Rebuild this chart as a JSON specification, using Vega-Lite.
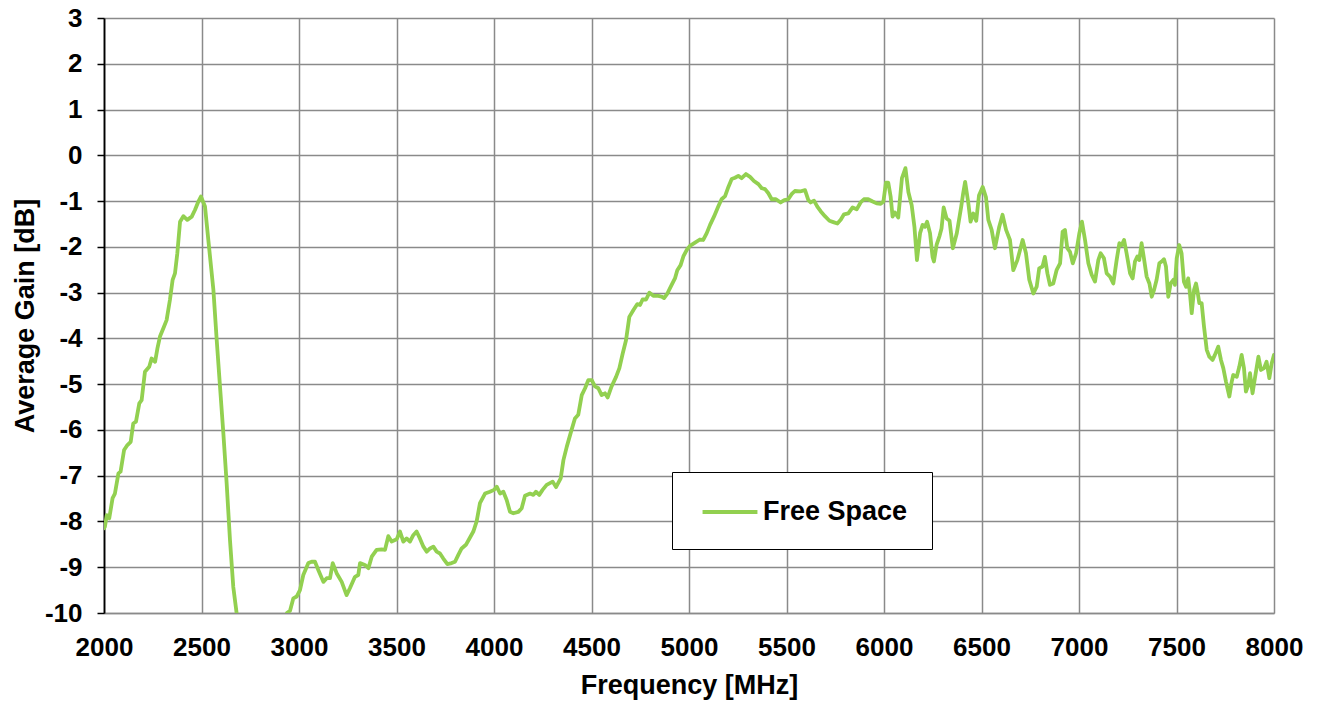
{
  "$schema": "https://vega.github.io/schema/vega-lite/v6.json",
  "width": 1170,
  "height": 595,
  "autosize": {"type": "none"},
  "padding": {"left": 104, "top": 18, "right": 44, "bottom": 89},
  "background": "white",
  "config": {
    "view": {"stroke": null},
    "font": "Liberation Sans",
    "axis": {
      "labelFont": "Liberation Sans",
      "labelFontWeight": "bold",
      "labelFontSize": 26,
      "labelColor": "black",
      "titleFont": "Liberation Sans",
      "titleFontWeight": "bold",
      "titleFontSize": 27,
      "titleColor": "black",
      "gridColor": "#8a8a8a",
      "gridWidth": 1.5,
      "gridOpacity": 1
    }
  },
  "data": {
    "values": [
      {"f": 2000, "g": -8.15, "s": "Free Space"},
      {"f": 2005, "g": -8.11, "s": "Free Space"},
      {"f": 2014, "g": -7.86, "s": "Free Space"},
      {"f": 2027, "g": -7.93, "s": "Free Space"},
      {"f": 2044, "g": -7.49, "s": "Free Space"},
      {"f": 2056, "g": -7.39, "s": "Free Space"},
      {"f": 2074, "g": -6.95, "s": "Free Space"},
      {"f": 2085, "g": -6.91, "s": "Free Space"},
      {"f": 2103, "g": -6.44, "s": "Free Space"},
      {"f": 2120, "g": -6.33, "s": "Free Space"},
      {"f": 2137, "g": -6.26, "s": "Free Space"},
      {"f": 2150, "g": -5.86, "s": "Free Space"},
      {"f": 2164, "g": -5.82, "s": "Free Space"},
      {"f": 2181, "g": -5.42, "s": "Free Space"},
      {"f": 2193, "g": -5.35, "s": "Free Space"},
      {"f": 2210, "g": -4.73, "s": "Free Space"},
      {"f": 2232, "g": -4.62, "s": "Free Space"},
      {"f": 2244, "g": -4.44, "s": "Free Space"},
      {"f": 2262, "g": -4.51, "s": "Free Space"},
      {"f": 2274, "g": -4.22, "s": "Free Space"},
      {"f": 2287, "g": -3.96, "s": "Free Space"},
      {"f": 2308, "g": -3.74, "s": "Free Space"},
      {"f": 2321, "g": -3.6, "s": "Free Space"},
      {"f": 2338, "g": -3.16, "s": "Free Space"},
      {"f": 2352, "g": -2.72, "s": "Free Space"},
      {"f": 2364, "g": -2.58, "s": "Free Space"},
      {"f": 2376, "g": -2.14, "s": "Free Space"},
      {"f": 2390, "g": -1.45, "s": "Free Space"},
      {"f": 2407, "g": -1.33, "s": "Free Space"},
      {"f": 2427, "g": -1.41, "s": "Free Space"},
      {"f": 2450, "g": -1.34, "s": "Free Space"},
      {"f": 2467, "g": -1.19, "s": "Free Space"},
      {"f": 2484, "g": -1.01, "s": "Free Space"},
      {"f": 2497, "g": -0.9, "s": "Free Space"},
      {"f": 2518, "g": -1.12, "s": "Free Space"},
      {"f": 2535, "g": -1.85, "s": "Free Space"},
      {"f": 2561, "g": -2.94, "s": "Free Space"},
      {"f": 2578, "g": -4.04, "s": "Free Space"},
      {"f": 2595, "g": -5.06, "s": "Free Space"},
      {"f": 2612, "g": -6.07, "s": "Free Space"},
      {"f": 2629, "g": -7.17, "s": "Free Space"},
      {"f": 2646, "g": -8.4, "s": "Free Space"},
      {"f": 2663, "g": -9.43, "s": "Free Space"},
      {"f": 2680, "g": -10.0, "s": "Free Space"},
      {"f": 2700, "g": -10.6, "s": "Free Space"},
      {"f": 2750, "g": -11.8, "s": "Free Space"},
      {"f": 2800, "g": -12.3, "s": "Free Space"},
      {"f": 2850, "g": -12.0, "s": "Free Space"},
      {"f": 2900, "g": -11.0, "s": "Free Space"},
      {"f": 2938, "g": -10.0, "s": "Free Space"},
      {"f": 2954, "g": -9.95, "s": "Free Space"},
      {"f": 2971, "g": -9.68, "s": "Free Space"},
      {"f": 2988, "g": -9.64, "s": "Free Space"},
      {"f": 3005, "g": -9.5, "s": "Free Space"},
      {"f": 3022, "g": -9.17, "s": "Free Space"},
      {"f": 3048, "g": -8.91, "s": "Free Space"},
      {"f": 3065, "g": -8.88, "s": "Free Space"},
      {"f": 3082, "g": -8.88, "s": "Free Space"},
      {"f": 3099, "g": -9.06, "s": "Free Space"},
      {"f": 3125, "g": -9.32, "s": "Free Space"},
      {"f": 3142, "g": -9.24, "s": "Free Space"},
      {"f": 3159, "g": -9.24, "s": "Free Space"},
      {"f": 3173, "g": -8.91, "s": "Free Space"},
      {"f": 3193, "g": -9.13, "s": "Free Space"},
      {"f": 3219, "g": -9.32, "s": "Free Space"},
      {"f": 3244, "g": -9.61, "s": "Free Space"},
      {"f": 3261, "g": -9.46, "s": "Free Space"},
      {"f": 3287, "g": -9.21, "s": "Free Space"},
      {"f": 3304, "g": -9.17, "s": "Free Space"},
      {"f": 3313, "g": -8.91, "s": "Free Space"},
      {"f": 3338, "g": -8.95, "s": "Free Space"},
      {"f": 3356, "g": -9.02, "s": "Free Space"},
      {"f": 3373, "g": -8.77, "s": "Free Space"},
      {"f": 3398, "g": -8.62, "s": "Free Space"},
      {"f": 3424, "g": -8.61, "s": "Free Space"},
      {"f": 3441, "g": -8.62, "s": "Free Space"},
      {"f": 3458, "g": -8.32, "s": "Free Space"},
      {"f": 3475, "g": -8.44, "s": "Free Space"},
      {"f": 3501, "g": -8.39, "s": "Free Space"},
      {"f": 3518, "g": -8.22, "s": "Free Space"},
      {"f": 3535, "g": -8.44, "s": "Free Space"},
      {"f": 3552, "g": -8.37, "s": "Free Space"},
      {"f": 3569, "g": -8.44, "s": "Free Space"},
      {"f": 3586, "g": -8.3, "s": "Free Space"},
      {"f": 3603, "g": -8.22, "s": "Free Space"},
      {"f": 3620, "g": -8.37, "s": "Free Space"},
      {"f": 3638, "g": -8.55, "s": "Free Space"},
      {"f": 3655, "g": -8.66, "s": "Free Space"},
      {"f": 3672, "g": -8.59, "s": "Free Space"},
      {"f": 3689, "g": -8.55, "s": "Free Space"},
      {"f": 3706, "g": -8.66, "s": "Free Space"},
      {"f": 3723, "g": -8.7, "s": "Free Space"},
      {"f": 3740, "g": -8.81, "s": "Free Space"},
      {"f": 3761, "g": -8.93, "s": "Free Space"},
      {"f": 3783, "g": -8.91, "s": "Free Space"},
      {"f": 3800, "g": -8.88, "s": "Free Space"},
      {"f": 3817, "g": -8.73, "s": "Free Space"},
      {"f": 3834, "g": -8.59, "s": "Free Space"},
      {"f": 3856, "g": -8.51, "s": "Free Space"},
      {"f": 3877, "g": -8.35, "s": "Free Space"},
      {"f": 3894, "g": -8.22, "s": "Free Space"},
      {"f": 3911, "g": -8.0, "s": "Free Space"},
      {"f": 3928, "g": -7.6, "s": "Free Space"},
      {"f": 3954, "g": -7.39, "s": "Free Space"},
      {"f": 3979, "g": -7.35, "s": "Free Space"},
      {"f": 4000, "g": -7.31, "s": "Free Space"},
      {"f": 4014, "g": -7.24, "s": "Free Space"},
      {"f": 4031, "g": -7.39, "s": "Free Space"},
      {"f": 4048, "g": -7.35, "s": "Free Space"},
      {"f": 4065, "g": -7.53, "s": "Free Space"},
      {"f": 4082, "g": -7.79, "s": "Free Space"},
      {"f": 4099, "g": -7.82, "s": "Free Space"},
      {"f": 4125, "g": -7.79, "s": "Free Space"},
      {"f": 4142, "g": -7.71, "s": "Free Space"},
      {"f": 4159, "g": -7.44, "s": "Free Space"},
      {"f": 4185, "g": -7.39, "s": "Free Space"},
      {"f": 4202, "g": -7.42, "s": "Free Space"},
      {"f": 4215, "g": -7.35, "s": "Free Space"},
      {"f": 4232, "g": -7.42, "s": "Free Space"},
      {"f": 4249, "g": -7.31, "s": "Free Space"},
      {"f": 4270, "g": -7.2, "s": "Free Space"},
      {"f": 4301, "g": -7.13, "s": "Free Space"},
      {"f": 4318, "g": -7.25, "s": "Free Space"},
      {"f": 4342, "g": -7.06, "s": "Free Space"},
      {"f": 4356, "g": -6.66, "s": "Free Space"},
      {"f": 4373, "g": -6.37, "s": "Free Space"},
      {"f": 4393, "g": -6.07, "s": "Free Space"},
      {"f": 4415, "g": -5.75, "s": "Free Space"},
      {"f": 4432, "g": -5.67, "s": "Free Space"},
      {"f": 4450, "g": -5.24, "s": "Free Space"},
      {"f": 4467, "g": -5.09, "s": "Free Space"},
      {"f": 4484, "g": -4.91, "s": "Free Space"},
      {"f": 4501, "g": -4.91, "s": "Free Space"},
      {"f": 4518, "g": -5.05, "s": "Free Space"},
      {"f": 4535, "g": -5.09, "s": "Free Space"},
      {"f": 4552, "g": -5.24, "s": "Free Space"},
      {"f": 4569, "g": -5.2, "s": "Free Space"},
      {"f": 4583, "g": -5.29, "s": "Free Space"},
      {"f": 4603, "g": -5.05, "s": "Free Space"},
      {"f": 4626, "g": -4.84, "s": "Free Space"},
      {"f": 4643, "g": -4.65, "s": "Free Space"},
      {"f": 4660, "g": -4.33, "s": "Free Space"},
      {"f": 4677, "g": -4.04, "s": "Free Space"},
      {"f": 4694, "g": -3.53, "s": "Free Space"},
      {"f": 4715, "g": -3.38, "s": "Free Space"},
      {"f": 4735, "g": -3.25, "s": "Free Space"},
      {"f": 4749, "g": -3.27, "s": "Free Space"},
      {"f": 4762, "g": -3.15, "s": "Free Space"},
      {"f": 4780, "g": -3.15, "s": "Free Space"},
      {"f": 4797, "g": -3.0, "s": "Free Space"},
      {"f": 4817, "g": -3.07, "s": "Free Space"},
      {"f": 4843, "g": -3.07, "s": "Free Space"},
      {"f": 4860, "g": -3.09, "s": "Free Space"},
      {"f": 4872, "g": -3.12, "s": "Free Space"},
      {"f": 4889, "g": -3.02, "s": "Free Space"},
      {"f": 4911, "g": -2.83, "s": "Free Space"},
      {"f": 4928, "g": -2.69, "s": "Free Space"},
      {"f": 4940, "g": -2.51, "s": "Free Space"},
      {"f": 4957, "g": -2.4, "s": "Free Space"},
      {"f": 4971, "g": -2.21, "s": "Free Space"},
      {"f": 4988, "g": -2.07, "s": "Free Space"},
      {"f": 5005, "g": -1.98, "s": "Free Space"},
      {"f": 5031, "g": -1.91, "s": "Free Space"},
      {"f": 5056, "g": -1.84, "s": "Free Space"},
      {"f": 5073, "g": -1.85, "s": "Free Space"},
      {"f": 5091, "g": -1.7, "s": "Free Space"},
      {"f": 5108, "g": -1.52, "s": "Free Space"},
      {"f": 5128, "g": -1.34, "s": "Free Space"},
      {"f": 5150, "g": -1.12, "s": "Free Space"},
      {"f": 5167, "g": -0.96, "s": "Free Space"},
      {"f": 5185, "g": -0.89, "s": "Free Space"},
      {"f": 5202, "g": -0.69, "s": "Free Space"},
      {"f": 5219, "g": -0.52, "s": "Free Space"},
      {"f": 5236, "g": -0.49, "s": "Free Space"},
      {"f": 5253, "g": -0.45, "s": "Free Space"},
      {"f": 5270, "g": -0.5, "s": "Free Space"},
      {"f": 5292, "g": -0.41, "s": "Free Space"},
      {"f": 5313, "g": -0.47, "s": "Free Space"},
      {"f": 5333, "g": -0.56, "s": "Free Space"},
      {"f": 5356, "g": -0.63, "s": "Free Space"},
      {"f": 5373, "g": -0.72, "s": "Free Space"},
      {"f": 5390, "g": -0.74, "s": "Free Space"},
      {"f": 5407, "g": -0.83, "s": "Free Space"},
      {"f": 5424, "g": -0.96, "s": "Free Space"},
      {"f": 5446, "g": -0.96, "s": "Free Space"},
      {"f": 5470, "g": -1.03, "s": "Free Space"},
      {"f": 5489, "g": -0.98, "s": "Free Space"},
      {"f": 5509, "g": -0.96, "s": "Free Space"},
      {"f": 5526, "g": -0.85, "s": "Free Space"},
      {"f": 5543, "g": -0.78, "s": "Free Space"},
      {"f": 5569, "g": -0.79, "s": "Free Space"},
      {"f": 5595, "g": -0.76, "s": "Free Space"},
      {"f": 5612, "g": -0.98, "s": "Free Space"},
      {"f": 5624, "g": -1.03, "s": "Free Space"},
      {"f": 5641, "g": -0.99, "s": "Free Space"},
      {"f": 5658, "g": -1.12, "s": "Free Space"},
      {"f": 5675, "g": -1.22, "s": "Free Space"},
      {"f": 5697, "g": -1.33, "s": "Free Space"},
      {"f": 5720, "g": -1.43, "s": "Free Space"},
      {"f": 5740, "g": -1.46, "s": "Free Space"},
      {"f": 5761, "g": -1.49, "s": "Free Space"},
      {"f": 5778, "g": -1.41, "s": "Free Space"},
      {"f": 5795, "g": -1.29, "s": "Free Space"},
      {"f": 5817, "g": -1.27, "s": "Free Space"},
      {"f": 5839, "g": -1.14, "s": "Free Space"},
      {"f": 5860, "g": -1.18, "s": "Free Space"},
      {"f": 5880, "g": -1.03, "s": "Free Space"},
      {"f": 5897, "g": -0.96, "s": "Free Space"},
      {"f": 5919, "g": -0.96, "s": "Free Space"},
      {"f": 5942, "g": -1.01, "s": "Free Space"},
      {"f": 5962, "g": -1.05, "s": "Free Space"},
      {"f": 5983, "g": -1.06, "s": "Free Space"},
      {"f": 5997, "g": -1.01, "s": "Free Space"},
      {"f": 6010, "g": -0.6, "s": "Free Space"},
      {"f": 6022, "g": -0.6, "s": "Free Space"},
      {"f": 6034, "g": -0.9, "s": "Free Space"},
      {"f": 6044, "g": -1.34, "s": "Free Space"},
      {"f": 6056, "g": -1.25, "s": "Free Space"},
      {"f": 6073, "g": -1.36, "s": "Free Space"},
      {"f": 6092, "g": -0.5, "s": "Free Space"},
      {"f": 6110, "g": -0.28, "s": "Free Space"},
      {"f": 6125, "g": -0.8, "s": "Free Space"},
      {"f": 6142, "g": -1.09, "s": "Free Space"},
      {"f": 6156, "g": -1.56, "s": "Free Space"},
      {"f": 6169, "g": -2.29, "s": "Free Space"},
      {"f": 6185, "g": -1.7, "s": "Free Space"},
      {"f": 6198, "g": -1.52, "s": "Free Space"},
      {"f": 6210, "g": -1.56, "s": "Free Space"},
      {"f": 6221, "g": -1.45, "s": "Free Space"},
      {"f": 6236, "g": -1.7, "s": "Free Space"},
      {"f": 6249, "g": -2.22, "s": "Free Space"},
      {"f": 6256, "g": -2.32, "s": "Free Space"},
      {"f": 6270, "g": -1.95, "s": "Free Space"},
      {"f": 6285, "g": -1.76, "s": "Free Space"},
      {"f": 6295, "g": -1.6, "s": "Free Space"},
      {"f": 6306, "g": -1.14, "s": "Free Space"},
      {"f": 6321, "g": -1.38, "s": "Free Space"},
      {"f": 6336, "g": -1.43, "s": "Free Space"},
      {"f": 6353, "g": -2.03, "s": "Free Space"},
      {"f": 6373, "g": -1.71, "s": "Free Space"},
      {"f": 6396, "g": -1.12, "s": "Free Space"},
      {"f": 6406, "g": -0.83, "s": "Free Space"},
      {"f": 6416, "g": -0.58, "s": "Free Space"},
      {"f": 6432, "g": -1.03, "s": "Free Space"},
      {"f": 6444, "g": -1.45, "s": "Free Space"},
      {"f": 6458, "g": -1.27, "s": "Free Space"},
      {"f": 6473, "g": -1.43, "s": "Free Space"},
      {"f": 6487, "g": -0.88, "s": "Free Space"},
      {"f": 6506, "g": -0.69, "s": "Free Space"},
      {"f": 6523, "g": -0.92, "s": "Free Space"},
      {"f": 6535, "g": -1.41, "s": "Free Space"},
      {"f": 6552, "g": -1.63, "s": "Free Space"},
      {"f": 6569, "g": -2.03, "s": "Free Space"},
      {"f": 6591, "g": -1.56, "s": "Free Space"},
      {"f": 6608, "g": -1.3, "s": "Free Space"},
      {"f": 6626, "g": -1.63, "s": "Free Space"},
      {"f": 6646, "g": -1.85, "s": "Free Space"},
      {"f": 6663, "g": -2.51, "s": "Free Space"},
      {"f": 6684, "g": -2.29, "s": "Free Space"},
      {"f": 6711, "g": -1.85, "s": "Free Space"},
      {"f": 6728, "g": -2.14, "s": "Free Space"},
      {"f": 6745, "g": -2.72, "s": "Free Space"},
      {"f": 6766, "g": -3.02, "s": "Free Space"},
      {"f": 6783, "g": -2.87, "s": "Free Space"},
      {"f": 6796, "g": -2.47, "s": "Free Space"},
      {"f": 6813, "g": -2.43, "s": "Free Space"},
      {"f": 6825, "g": -2.22, "s": "Free Space"},
      {"f": 6838, "g": -2.58, "s": "Free Space"},
      {"f": 6851, "g": -2.83, "s": "Free Space"},
      {"f": 6868, "g": -2.8, "s": "Free Space"},
      {"f": 6885, "g": -2.51, "s": "Free Space"},
      {"f": 6903, "g": -2.36, "s": "Free Space"},
      {"f": 6916, "g": -1.67, "s": "Free Space"},
      {"f": 6928, "g": -1.63, "s": "Free Space"},
      {"f": 6940, "g": -2.03, "s": "Free Space"},
      {"f": 6954, "g": -2.11, "s": "Free Space"},
      {"f": 6968, "g": -2.36, "s": "Free Space"},
      {"f": 6985, "g": -2.14, "s": "Free Space"},
      {"f": 7002, "g": -1.7, "s": "Free Space"},
      {"f": 7015, "g": -1.45, "s": "Free Space"},
      {"f": 7031, "g": -1.85, "s": "Free Space"},
      {"f": 7048, "g": -2.36, "s": "Free Space"},
      {"f": 7065, "g": -2.61, "s": "Free Space"},
      {"f": 7082, "g": -2.76, "s": "Free Space"},
      {"f": 7099, "g": -2.29, "s": "Free Space"},
      {"f": 7111, "g": -2.14, "s": "Free Space"},
      {"f": 7128, "g": -2.25, "s": "Free Space"},
      {"f": 7142, "g": -2.58, "s": "Free Space"},
      {"f": 7159, "g": -2.65, "s": "Free Space"},
      {"f": 7176, "g": -2.8, "s": "Free Space"},
      {"f": 7193, "g": -2.29, "s": "Free Space"},
      {"f": 7207, "g": -1.92, "s": "Free Space"},
      {"f": 7219, "g": -1.96, "s": "Free Space"},
      {"f": 7231, "g": -1.85, "s": "Free Space"},
      {"f": 7244, "g": -2.14, "s": "Free Space"},
      {"f": 7262, "g": -2.58, "s": "Free Space"},
      {"f": 7275, "g": -2.69, "s": "Free Space"},
      {"f": 7287, "g": -2.32, "s": "Free Space"},
      {"f": 7299, "g": -2.21, "s": "Free Space"},
      {"f": 7309, "g": -2.29, "s": "Free Space"},
      {"f": 7321, "g": -1.92, "s": "Free Space"},
      {"f": 7333, "g": -2.25, "s": "Free Space"},
      {"f": 7347, "g": -2.65, "s": "Free Space"},
      {"f": 7361, "g": -2.8, "s": "Free Space"},
      {"f": 7373, "g": -3.09, "s": "Free Space"},
      {"f": 7385, "g": -2.94, "s": "Free Space"},
      {"f": 7398, "g": -2.72, "s": "Free Space"},
      {"f": 7412, "g": -2.36, "s": "Free Space"},
      {"f": 7424, "g": -2.32, "s": "Free Space"},
      {"f": 7436, "g": -2.27, "s": "Free Space"},
      {"f": 7446, "g": -2.43, "s": "Free Space"},
      {"f": 7458, "g": -3.09, "s": "Free Space"},
      {"f": 7470, "g": -2.8, "s": "Free Space"},
      {"f": 7484, "g": -2.72, "s": "Free Space"},
      {"f": 7492, "g": -2.83, "s": "Free Space"},
      {"f": 7501, "g": -2.25, "s": "Free Space"},
      {"f": 7514, "g": -1.96, "s": "Free Space"},
      {"f": 7526, "g": -2.14, "s": "Free Space"},
      {"f": 7538, "g": -2.76, "s": "Free Space"},
      {"f": 7549, "g": -2.87, "s": "Free Space"},
      {"f": 7560, "g": -2.69, "s": "Free Space"},
      {"f": 7569, "g": -3.02, "s": "Free Space"},
      {"f": 7578, "g": -3.45, "s": "Free Space"},
      {"f": 7590, "g": -2.94, "s": "Free Space"},
      {"f": 7600, "g": -2.8, "s": "Free Space"},
      {"f": 7608, "g": -2.98, "s": "Free Space"},
      {"f": 7617, "g": -3.23, "s": "Free Space"},
      {"f": 7629, "g": -3.23, "s": "Free Space"},
      {"f": 7641, "g": -3.74, "s": "Free Space"},
      {"f": 7655, "g": -4.25, "s": "Free Space"},
      {"f": 7668, "g": -4.4, "s": "Free Space"},
      {"f": 7685, "g": -4.47, "s": "Free Space"},
      {"f": 7697, "g": -4.36, "s": "Free Space"},
      {"f": 7714, "g": -4.18, "s": "Free Space"},
      {"f": 7728, "g": -4.47, "s": "Free Space"},
      {"f": 7740, "g": -4.65, "s": "Free Space"},
      {"f": 7754, "g": -4.95, "s": "Free Space"},
      {"f": 7771, "g": -5.27, "s": "Free Space"},
      {"f": 7783, "g": -4.95, "s": "Free Space"},
      {"f": 7791, "g": -4.8, "s": "Free Space"},
      {"f": 7809, "g": -4.84, "s": "Free Space"},
      {"f": 7822, "g": -4.62, "s": "Free Space"},
      {"f": 7834, "g": -4.36, "s": "Free Space"},
      {"f": 7846, "g": -4.65, "s": "Free Space"},
      {"f": 7856, "g": -5.16, "s": "Free Space"},
      {"f": 7868, "g": -5.02, "s": "Free Space"},
      {"f": 7877, "g": -4.76, "s": "Free Space"},
      {"f": 7890, "g": -5.2, "s": "Free Space"},
      {"f": 7902, "g": -4.87, "s": "Free Space"},
      {"f": 7920, "g": -4.4, "s": "Free Space"},
      {"f": 7933, "g": -4.69, "s": "Free Space"},
      {"f": 7949, "g": -4.65, "s": "Free Space"},
      {"f": 7962, "g": -4.51, "s": "Free Space"},
      {"f": 7976, "g": -4.87, "s": "Free Space"},
      {"f": 7988, "g": -4.55, "s": "Free Space"},
      {"f": 8000, "g": -4.36, "s": "Free Space"}
    ]
  },
  "mark": {"type": "line", "clip": true, "strokeWidth": 3.8, "strokeJoin": "round", "strokeCap": "round"},
  "encoding": {
    "x": {
      "field": "f",
      "type": "quantitative",
      "scale": {"domain": [2000, 8000], "nice": false, "zero": false},
      "axis": {
        "title": "Frequency [MHz]",
        "values": [2000, 2500, 3000, 3500, 4000, 4500, 5000, 5500, 6000, 6500, 7000, 7500, 8000],
        "format": "d",
        "ticks": false,
        "tickSize": 0,
        "domain": true,
        "domainColor": "#8a8a8a",
        "domainWidth": 1.5,
        "labelPadding": 21,
        "titlePadding": 12,
        "labelFlush": false
      }
    },
    "y": {
      "field": "g",
      "type": "quantitative",
      "scale": {"domain": [-10, 3], "nice": false, "zero": false},
      "axis": {
        "title": "Average Gain [dB]",
        "values": [-10, -9, -8, -7, -6, -5, -4, -3, -2, -1, 0, 1, 2, 3],
        "labelExpr": "'' + datum.value",
        "ticks": true,
        "tickSize": 7,
        "tickColor": "black",
        "tickWidth": 1.5,
        "domain": true,
        "domainColor": "black",
        "domainWidth": 1.8,
        "labelPadding": 15,
        "titlePadding": 5,
        "labelFlush": false
      }
    },
    "color": {
      "field": "s",
      "type": "nominal",
      "scale": {"range": ["#92D050"]},
      "legend": {
        "title": null,
        "orient": "none",
        "legendX": 568,
        "legendY": 454,
        "padding": 24,
        "strokeColor": "black",
        "fillColor": "white",
        "symbolType": "M-1.96,0L1.96,0",
        "symbolSize": 784,
        "symbolStrokeWidth": 4,
        "symbolOffset": 18,
        "labelFont": "Liberation Sans",
        "labelFontWeight": "bold",
        "labelFontSize": 27,
        "labelColor": "black",
        "labelOffset": 17
      }
    }
  }
}
